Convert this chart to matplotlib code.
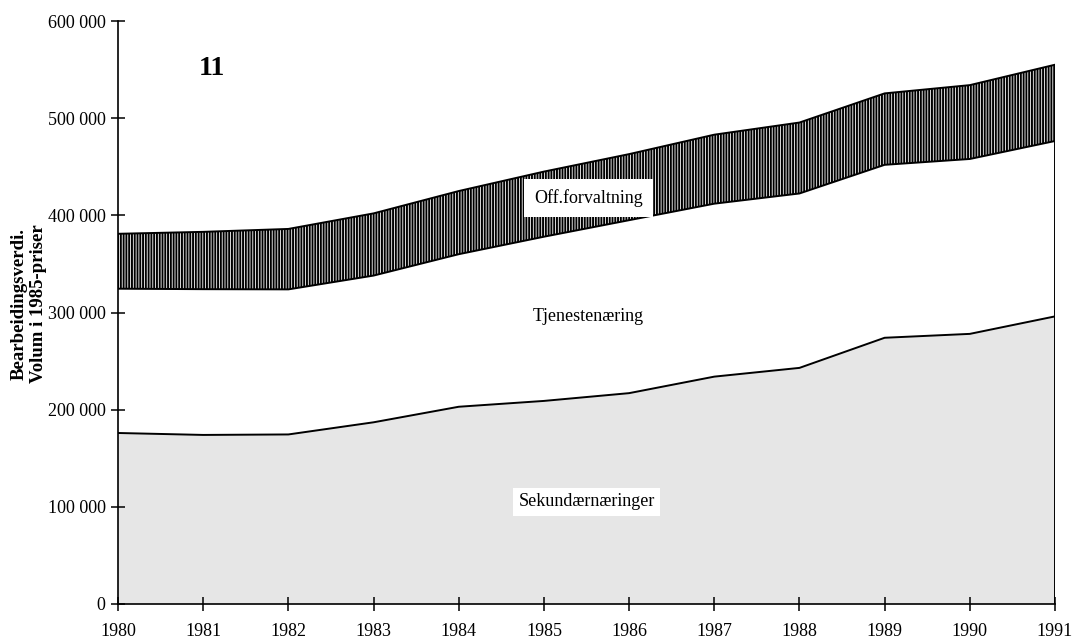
import matplotlib
matplotlib.use("Agg")
import matplotlib.pyplot as plt
from matplotlib.ticker import FuncFormatter

years = [1980, 1981, 1982, 1983, 1984, 1985, 1986, 1987, 1988, 1989, 1990, 1991]
sekundaer = [176000, 174000, 174500, 187000, 203000, 209000, 217000, 234000, 243000, 274000, 278000, 296000]
tjeneste_top = [324500, 324000, 323800, 338000, 360000, 378000, 395000, 412000, 422500, 452000, 458000, 476500]
off_top = [381000, 383000, 386000, 402000, 425000, 445000, 463000, 483000, 495500, 525500, 534000, 555000]

plt.rcParams['font.family'] = ['Liberation Serif', 'DejaVu Serif']
plt.rcParams['hatch.linewidth'] = 1.4

fig = plt.figure(figsize=(10.72, 6.39), dpi=100)
ax = fig.add_axes([118/1072, 35/639, (1055-118)/1072, (604-21)/639])

ax.fill_between(years, 0, sekundaer, facecolor='#e6e6e6', edgecolor='none', zorder=1)
ax.fill_between(years, sekundaer, tjeneste_top, facecolor='white', edgecolor='none', zorder=1)
ax.fill_between(years, tjeneste_top, off_top, facecolor='white', edgecolor='black',
                hatch='||||||', linewidth=0, zorder=1)
for series in (sekundaer, tjeneste_top, off_top):
    ax.plot(years, series, color='black', linewidth=1.4, zorder=3)
ax.plot([years[-1], years[-1]], [0, off_top[-1]], color='black', linewidth=1.4, zorder=3)

ax.set_xlim(1980, 1991)
ax.set_ylim(0, 600000)
ax.set_xticks(years)
ax.set_yticks(range(0, 600001, 100000))
ax.yaxis.set_major_formatter(FuncFormatter(lambda v, p: '0' if v == 0 else f"{int(v):,}".replace(',', ' ')))
for s in ('top', 'right'):
    ax.spines[s].set_visible(False)
for s in ('left', 'bottom'):
    ax.spines[s].set_linewidth(1.2)
ax.tick_params(axis='both', direction='inout', length=10, width=1.1, labelsize=13)
ax.tick_params(axis='x', pad=8.5)
ax.tick_params(axis='y', pad=4)

ax.text(1985.52, 418000, 'Off.forvaltning', ha='center', va='center', fontsize=13,
        bbox=dict(facecolor='white', edgecolor='none', boxstyle='square,pad=0.55'), zorder=4)
ax.text(1985.52, 296000, 'Tjenestenæring', ha='center', va='center', fontsize=13, zorder=4)
ax.text(1985.5, 105000, 'Sekundærnæringer', ha='center', va='center', fontsize=13,
        bbox=dict(facecolor='white', edgecolor='none', boxstyle='square,pad=0.3'), zorder=4)
ax.text(1981.1, 551000, '11', ha='center', va='center', fontsize=20, fontweight='bold', zorder=4)

fig.text(29/1072, 0.525, 'Bearbeidingsverdi.\nVolum i 1985-priser', rotation=90, ha='center', va='center',
         fontsize=13.5, fontweight='bold', linespacing=1.15)

fig.savefig('out.png', dpi=100)
